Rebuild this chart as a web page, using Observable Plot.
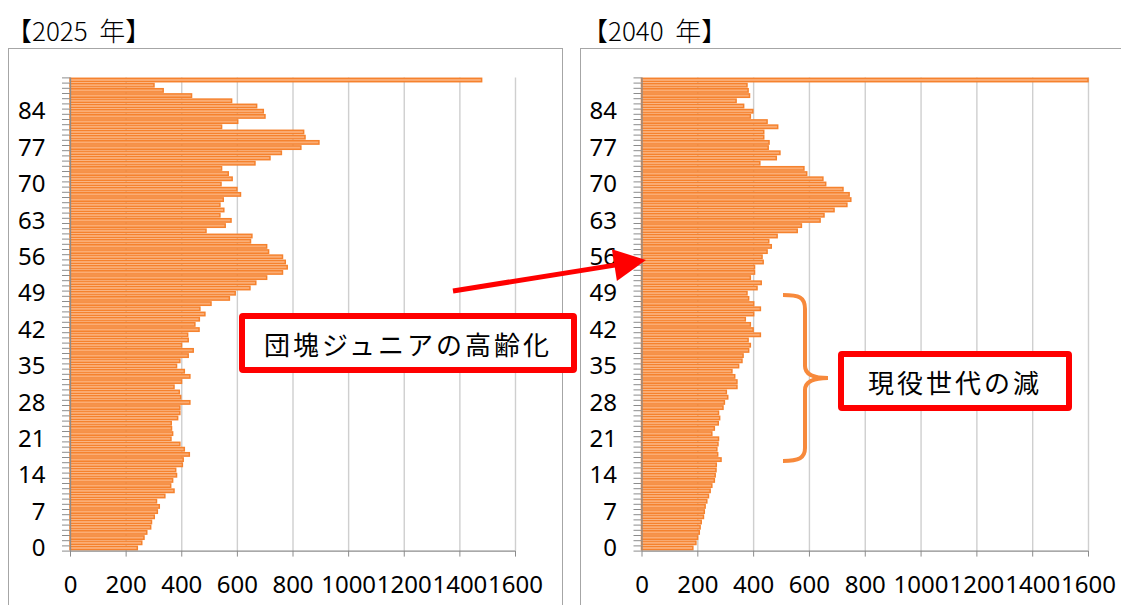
<!DOCTYPE html>
<html>
<head>
<meta charset="utf-8">
<script src="https://cdn.jsdelivr.net/npm/d3@7"></script>
<script src="https://cdn.jsdelivr.net/npm/@observablehq/plot@0.6"></script>
<style>
  body { margin: 0; background: #fff; }
  #page { position: relative; width: 1121px; height: 605px; overflow: hidden; font-family: "Noto Sans", sans-serif; }
  .panel { position: absolute; border: 1px solid #a6a6a6; box-sizing: border-box; }
  .title { position: absolute; font-family: "Noto Sans CJK JP", sans-serif; font-weight: 300; font-size: 26px; line-height: 1; white-space: pre; }
  .chart { position: absolute; top: 0; }
  .callout { position: absolute; box-sizing: border-box; border: 6px solid #ff0000; border-radius: 4px; background: #fff;
             display: flex; align-items: center; justify-content: center;
             font-family: "Noto Sans CJK JP", sans-serif; font-size: 26px; letter-spacing: 3px; white-space: nowrap; }
  #overlay { position: absolute; left: 0; top: 0; }
</style>
</head>
<body>
<div id="page">
  <div class="panel" style="left:8px; top:48px; width:555px; height:600px;"></div>
  <div class="panel" style="left:580px; top:48px; width:600px; height:600px;"></div>
  <div class="title" style="left:6px; top:17px;">【2025  年】</div>
  <div class="title" style="left:582px; top:17px;">【2040  年】</div>
  <div id="left" class="chart" style="left:0px;"></div>
  <div id="right" class="chart" style="left:572px;"></div>
  <svg id="overlay" width="1121" height="605"></svg>
  <div class="callout" style="left:239px; top:313px; width:338px; height:60px;">団塊ジュニアの高齢化</div>
  <div class="callout" style="left:838px; top:351px; width:234px; height:60px;">現役世代の減</div>
</div>
<script>
// Population by single year of age (0 .. 90+), hundreds of persons
const ages = d3.range(0, 91);

const pop2025 = [
  242, 258, 266, 276, 290, 293, 303, 314, 321, 311,
  341, 374, 362, 369, 383, 380, 404, 407, 429, 411,
  395, 363, 369, 365, 364, 387, 395, 395, 431, 398,
  393, 374, 401, 431, 411, 383, 395, 425, 443, 401,
  425, 423, 464, 449, 465, 485, 467, 507, 573, 594,
  647, 668, 707, 764, 781, 774, 764, 714, 707, 649,
  654, 489, 558, 579, 539, 553, 539, 551, 613, 600,
  543, 583, 569, 545, 665, 719, 760, 830, 895, 845,
  840, 545, 603, 701, 695, 671, 581, 437, 335, 302,
  1480
];

const pop2040 = [
  184, 195, 201, 207, 210, 214, 222, 225, 228, 234,
  240, 246, 252, 261, 264, 267, 268, 285, 273, 270,
  274, 276, 252, 261, 275, 280, 276, 292, 297, 309,
  304, 342, 342, 334, 324, 348, 360, 364, 384, 390,
  382, 426, 400, 390, 372, 402, 426, 402, 384, 378,
  414, 429, 390, 405, 405, 436, 432, 450, 465, 456,
  486, 558, 573, 640, 654, 690, 736, 750, 744, 722,
  660, 650, 592, 582, 424, 483, 496, 454, 457, 438,
  438, 488, 450, 390, 399, 366, 339, 387, 382, 378,
  1600
];

const xTicks = [0, 200, 400, 600, 800, 1000, 1200, 1400, 1600];
const ageLabels = [0, 7, 14, 21, 28, 35, 42, 49, 56, 63, 70, 77, 84];

const barFill = "#fbad74";
const barStroke = "#f5822e";
const axisGray = "#8c8c8c";

function pyramid(values, { width, marginLeft, marginRight }) {
  const data = ages.map((age, i) => ({ age, value: values[i] }));
  const bounds = d3.range(-0.5, 91, 1);
  return Plot.plot({
    width,
    height: 605,
    marginLeft,
    marginRight,
    marginTop: 77.4,
    marginBottom: 54.4,
    style: { fontFamily: "Noto Sans", fontSize: "24px", color: "#000", background: "transparent", overflow: "visible" },
    x: { domain: [0, 1600] },
    y: { domain: [-0.5, 90.5] },
    marks: [
      Plot.gridX(xTicks.slice(1), { stroke: "#cfcfcf", strokeOpacity: 1, strokeWidth: 1.4 }),
      Plot.rectX(data, {
        x1: 0, x2: "value",
        y1: d => d.age - 0.5, y2: d => d.age + 0.5,
        insetTop: 0.9, insetBottom: 0.9,
        fill: barFill, stroke: barStroke, strokeWidth: 1.5
      }),
      Plot.ruleX([0], { stroke: axisGray, strokeWidth: 1.3 }),
      Plot.ruleY([-0.5], { stroke: axisGray, strokeWidth: 1.3 }),
      Plot.axisX(xTicks, { tickSize: 6, tickPadding: 19, tickFormat: d => String(d), stroke: axisGray, label: null }),
      Plot.axisY(bounds, { tickSize: 8, tickFormat: () => "", stroke: axisGray, label: null }),
      Plot.axisY(ageLabels, { tickSize: 0, tickPadding: 25, tickFormat: d => String(d), label: null })
    ]
  });
}

document.getElementById("left").append(pyramid(pop2025, { width: 560, marginLeft: 70, marginRight: 45 }));
document.getElementById("right").append(pyramid(pop2040, { width: 549, marginLeft: 69.5, marginRight: 33 }));

// Arrow and bracket annotations
const svg = d3.select("#overlay");
svg.append("line")
  .attr("x1", 453).attr("y1", 291).attr("x2", 618).attr("y2", 264.6)
  .attr("stroke", "#ff0000").attr("stroke-width", 5);
svg.append("polygon")
  .attr("points", "611.9,249.3 646,260 616.9,280.9")
  .attr("fill", "#ff0000");
svg.append("path")
  .attr("d", "M783,295 C799,295 805,297 805,309 L805,366 C805,374 812,378 828,378 C812,378 805,382 805,390 L805,448 C805,458 799,461 783,461")
  .attr("fill", "none").attr("stroke", "#f7893b").attr("stroke-width", 4);
</script>
</body>
</html>
